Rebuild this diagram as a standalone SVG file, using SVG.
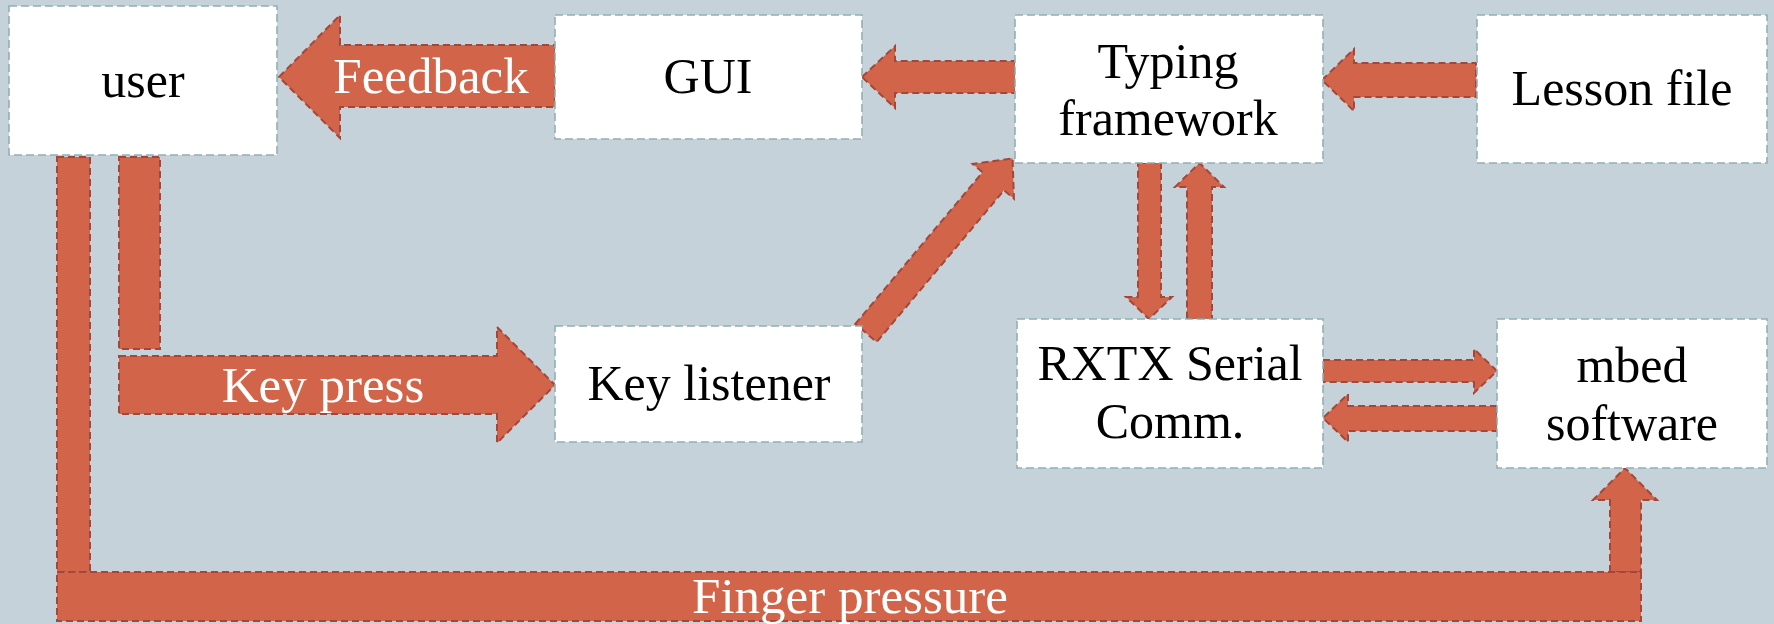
<svg xmlns="http://www.w3.org/2000/svg" width="1774" height="624" viewBox="0 0 1774 624">
<style>
.bg{fill:#C6D2D9}
.box{fill:#FFFFFF;stroke:#8FB1B3;stroke-width:1.6;stroke-dasharray:8,4}
.arr{fill:#D16449;stroke:#A4473A;stroke-width:2;stroke-dasharray:7,4;stroke-linejoin:miter}
.t{font-family:"Liberation Serif","DejaVu Serif",serif;font-size:50px;fill:#000;text-anchor:middle}
.w{font-family:"Liberation Serif","DejaVu Serif",serif;font-size:51px;fill:#FFFFFF;text-anchor:middle}
</style>
<rect class="bg" x="0" y="0" width="1774" height="624"/>
<g id="connectors">
  <polygon class="arr" points="279,77 340,15 340,45 555,45 555,107 340,107 340,138"/>
  <polygon class="arr" points="862,77 895,46 895,61 1015,61 1015,93 895,93 895,108"/>
  <polygon class="arr" points="1322,80 1354,49 1354,63 1476,63 1476,97 1354,97 1354,111"/>
  <rect class="arr" x="119" y="157" width="41" height="192"/>
  <polygon class="arr" points="119,356 497,356 497,327 555,385 497,443 497,414 119,414"/>
  <g transform="translate(866,333) rotate(-50)">
    <polygon class="arr" points="0,-14 198,-14 198,-27 228,0 198,27 198,14 0,14"/>
  </g>
  <polygon class="arr" points="1138,163 1161,163 1161,297 1172,297 1149,319 1126,297 1138,297"/>
  <polygon class="arr" points="1187,319 1212,319 1212,187 1224,187 1199.5,163 1175,187 1187,187"/>
  <polygon class="arr" points="1323,360 1474,360 1474,349 1497,371 1474,393 1474,382 1323,382"/>
  <polygon class="arr" points="1497,406 1348,406 1348,394 1323,418 1348,442 1348,431 1497,431"/>
  <rect class="arr" x="57" y="157" width="33" height="415"/>
  <polygon class="arr" points="1610,572 1610,500 1593,500 1625,468 1657,500 1641,500 1641,572"/>
  <rect class="arr" x="57" y="572" width="1584" height="49"/>
  <text class="w" x="431" y="93">Feedback</text>
  <text class="w" x="323" y="402">Key press</text>
  <text class="w" x="850" y="613" font-size="53">Finger pressure</text>
</g>
<g id="user">
  <rect class="box" x="9" y="6" width="268" height="149"/>
  <text class="t" x="143" y="97">user</text>
</g>
<g id="gui">
  <rect class="box" x="555" y="15" width="307" height="124"/>
  <text class="t" x="708" y="93">GUI</text>
</g>
<g id="typing">
  <rect class="box" x="1015" y="15" width="308" height="148"/>
  <text class="t" x="1168" y="78" font-size="49">Typing</text>
  <text class="t" x="1168" y="135" font-size="49">framework</text>
</g>
<g id="lesson">
  <rect class="box" x="1477" y="15" width="290" height="148"/>
  <text class="t" x="1622" y="105">Lesson file</text>
</g>
<g id="keylistener">
  <rect class="box" x="555" y="326" width="307" height="116"/>
  <text class="t" x="709" y="400">Key listener</text>
</g>
<g id="rxtx">
  <rect class="box" x="1017" y="319" width="306" height="149"/>
  <text class="t" x="1170" y="380">RXTX Serial</text>
  <text class="t" x="1170" y="438">Comm.</text>
</g>
<g id="mbed">
  <rect class="box" x="1497" y="319" width="270" height="149"/>
  <text class="t" x="1632" y="382">mbed</text>
  <text class="t" x="1632" y="440">software</text>
</g>
</svg>
